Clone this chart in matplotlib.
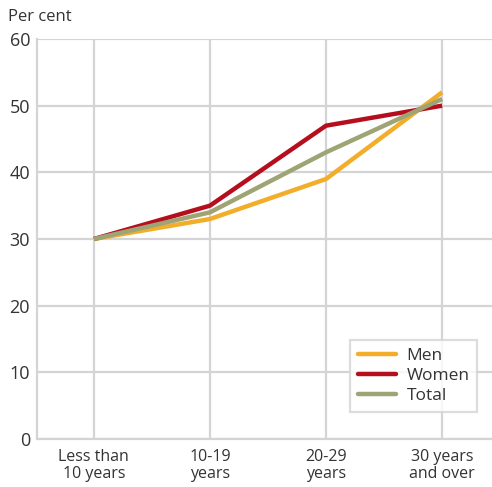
import matplotlib.pyplot as plt

plt.rcParams['font.family'] = ['Open Sans', 'DejaVu Sans']

categories = ['Less than\n10 years', '10-19\nyears', '20-29\nyears', '30 years\nand over']
men = [30, 33, 39, 52]
women = [30, 35, 47, 50]
total = [30, 34, 43, 51]

text_col = '#333333'
grid_col = '#d4d4d6'

fig = plt.figure(figsize=(4.92, 4.87), dpi=100)
ax = fig.add_axes([37/492, 48/487, 455/492, 400/487])

x = range(len(categories))
ax.plot(x, men, color='#f2ae2b', lw=3.2, label='Men', solid_capstyle='butt')
ax.plot(x, women, color='#b50f1d', lw=3.2, label='Women', solid_capstyle='butt')
ax.plot(x, total, color='#9ea473', lw=3.2, label='Total', solid_capstyle='butt')

ax.set_ylim(0, 60)
ax.set_xlim(-0.49, 3.43)
ax.set_yticks(range(0, 61, 10))
ax.set_xticks(list(x))
ax.set_xticklabels(categories, fontsize=11.5, color=text_col, linespacing=1.1)
ax.tick_params(axis='y', labelsize=13, colors=text_col, length=0, pad=5)
ax.tick_params(axis='x', length=0, pad=7)

ax.grid(True, color=grid_col, lw=1.6)
ax.set_axisbelow(True)
for s in ['top', 'right']:
    ax.spines[s].set_visible(False)
for s in ['left', 'bottom']:
    ax.spines[s].set_color(grid_col)
    ax.spines[s].set_linewidth(1.6)

fig.text(8/492, 1 - 17/487, 'Per cent', fontsize=12, color=text_col, va='center')

leg = ax.legend(loc='lower right', bbox_to_anchor=(0.968, 0.068), fontsize=12.5,
                frameon=True, fancybox=False, handlelength=2.2, handletextpad=0.6,
                labelspacing=0.22, borderpad=0.45, borderaxespad=0, labelcolor=text_col)
leg.get_frame().set_edgecolor(grid_col)
leg.get_frame().set_linewidth(1.6)
for h in leg.get_lines():
    h.set_solid_capstyle('round')

fig.savefig('out.png', dpi=100)
